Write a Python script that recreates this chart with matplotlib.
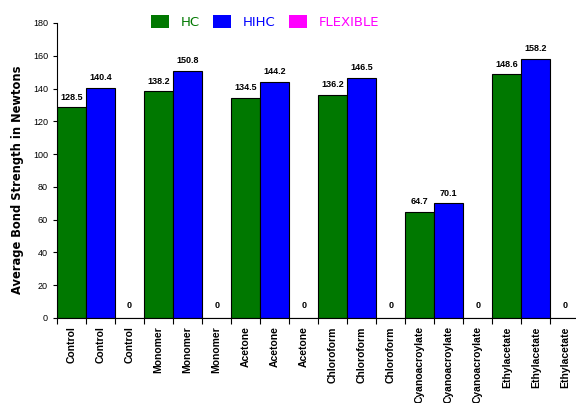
import numpy as np
import matplotlib
matplotlib.use("Agg")
from matplotlib import pyplot as plt
from matplotlib.patches import Patch

categories = ['Control', 'Control', 'Control', 'Monomer', 'Monomer', 'Monomer',
              'Acetone', 'Acetone', 'Acetone', 'Chloroform', 'Chloroform', 'Chloroform',
              'Cyanoacroylate', 'Cyanoacroylate', 'Cyanoacroylate',
              'Ethylacetate', 'Ethylacetate', 'Ethylacetate']
values = [128.5, 140.4, 0, 138.2, 150.8, 0, 134.5, 144.2, 0,
          136.2, 146.5, 0, 64.7, 70.1, 0, 148.6, 158.2, 0]
series = ['HC', 'HIHC', 'FLEXIBLE']
series_colors = ['#007800', '#0000ff', '#ff00ff']

plt.rcParams['font.family'] = ['Liberation Sans', 'DejaVu Sans']

fig = plt.figure(figsize=(5.76, 4.03), dpi=100)
ax = fig.add_axes([0.099, 0.211, 0.907, 0.732])

x = np.arange(len(categories))
colors = [series_colors[i % 3] for i in range(len(categories))]
bars = ax.bar(x, values, width=1.0, color=colors, edgecolor='black', linewidth=0.8)

for xi, v in zip(x, values):
    ax.annotate('{:g}'.format(v) if v else '0', (xi, v), xytext=(0, 4 if v else 6),
                textcoords='offset points', ha='center', va='bottom',
                fontsize=6.5, fontweight='bold')

ax.set_xlim(-0.5, len(categories) - 0.5)
ax.set_ylim(0, 180)
ax.set_yticks(range(0, 181, 20))
ax.tick_params(axis='y', labelsize=6.5, length=3, width=0.8)
ax.set_xticks(x)
ax.set_xticklabels(categories, rotation=90, fontsize=7.5, fontweight='bold')
ax.tick_params(axis='x', length=0, pad=6)
ax.set_xticks(np.arange(-0.5, len(categories), 1), minor=True)
ax.tick_params(axis='x', which='minor', length=4, width=0.8)
ax.spines['top'].set_visible(False)
ax.spines['right'].set_visible(False)
ax.set_ylabel('Average Bond Strength in Newtons', family='DejaVu Sans',
              fontsize=8.3, fontweight='bold')
ax.yaxis.set_label_coords(-0.064, 0.47)

handles = [Patch(facecolor=c, edgecolor='none') for c in series_colors]
leg = fig.legend(handles, series, loc='center', bbox_to_anchor=(0.46, 0.945), ncol=3,
                 frameon=False, fontsize=10, handlelength=1.3, handleheight=1.0,
                 columnspacing=1.0, handletextpad=0.8)
for t, c in zip(leg.get_texts(), series_colors):
    t.set_color(c)
    t.set_family('DejaVu Sans')
    t.set_fontsize(9.5)

fig.savefig('out.png', dpi=100)
